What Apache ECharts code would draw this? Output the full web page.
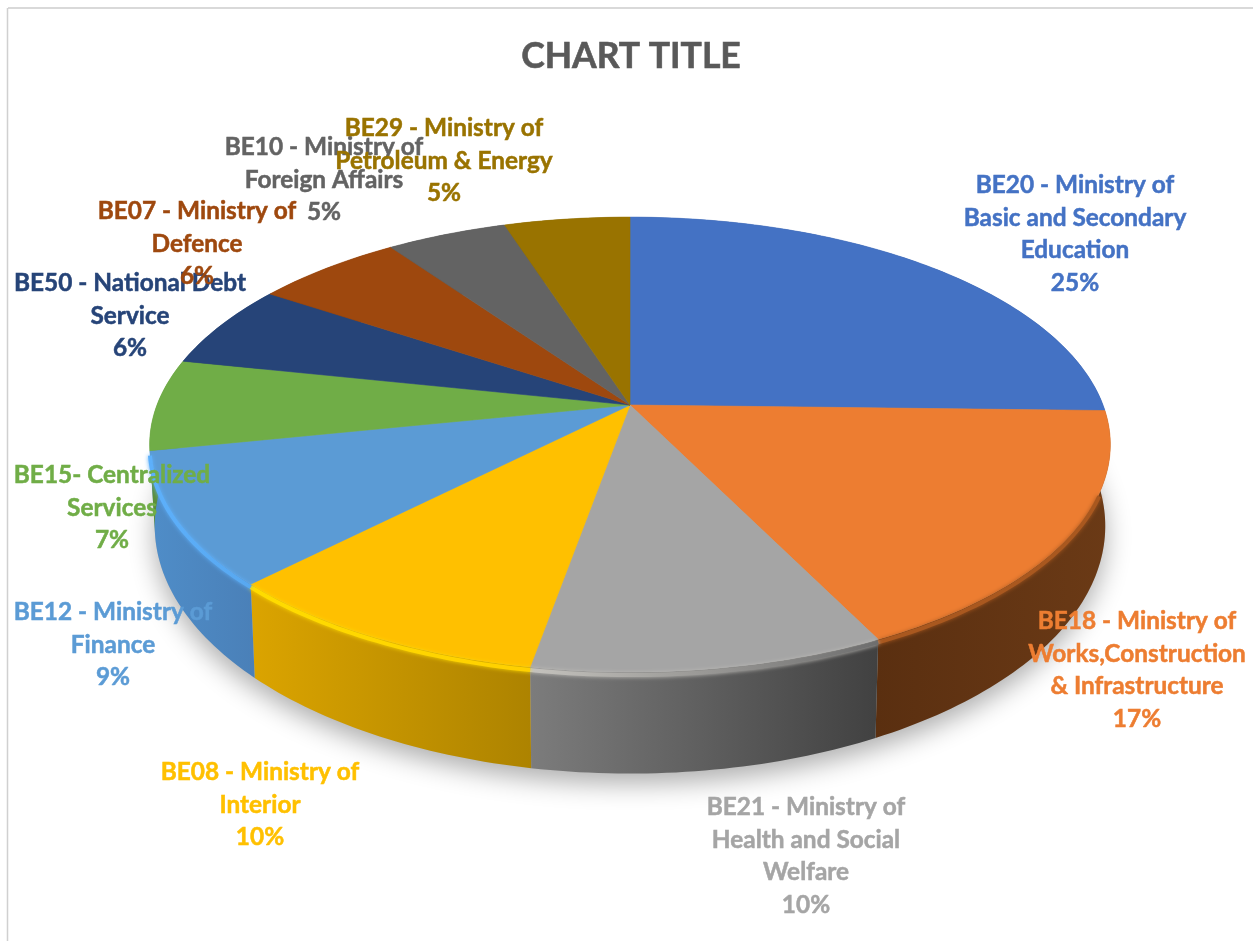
<!DOCTYPE html>
<html>
<head>
<meta charset="utf-8">
<title>Chart Title</title>
<script src="https://cdn.jsdelivr.net/npm/echarts@6/dist/echarts.min.js"></script>
<style>
  html, body { margin: 0; padding: 0; background: #fff; }
  #main { width: 1253px; height: 941px; }
</style>
</head>
<body>
<div id="main"></div>
<script>
// data, clockwise from 12 o'clock
const names = [
  'BE20 - Ministry of\nBasic and Secondary\nEducation',
  'BE18 - Ministry of\nWorks,Construction\n& Infrastructure',
  'BE21 - Ministry of\nHealth and Social\nWelfare',
  'BE08 - Ministry of\nInterior',
  'BE12 - Ministry of\nFinance',
  'BE15- Centralized\nServices',
  'BE50 - National Debt\nService',
  'BE07 - Ministry of\nDefence',
  'BE10 - Ministry of\nForeign Affairs',
  'BE29 - Ministry of\nPetroleum & Energy'
];
const shares = [25.4, 17.3, 10.1, 9.6, 9.4, 6.5, 6.0, 5.9, 4.8, 5.0];

// styles per slice
const faceColors = ['#4472c4', '#ed7d31', '#a5a5a5', '#ffc000', '#5b9bd5', '#70ad47', '#264478', '#9e480e', '#636363', '#997300'];
const wallColors = [
  ['#2f4f88', '#2f4f88'], ['#5a2f10', '#6b3a16'], ['#7c7c7c', '#414141'], ['#dba400', '#ad8300'],
  ['#4f8dc8', '#4a80b8'], ['#5c8e3a', '#5c8e3a'], ['#1c3358', '#1c3358'], ['#74350a', '#74350a'],
  ['#4a4a4a', '#4a4a4a'], ['#715500', '#715500']
];
const rimColors = [
  null, ['#a9581f', '#a9581f'], ['#c4c2bd', '#6e6e6e'], ['#ffdc00', '#ffd000'],
  ['#5db0fb', '#58a8f0'], null, null, null, null, null
];
// centre of each label block
const labelX = [1075, 1137, 806, 260, 113, 112, 130, 197, 324, 444];
const labelY = [234, 670, 856, 805, 645, 508, 316, 244, 180, 161];

// projected discs: top face and lower edge of the wall
const APEX_X = 630;
const TOP = { rx: 473, cy: 405, ry: 220.6 };
const BOTTOM = { rx: 468, cy: 483, ry: 240 };
const TILT = 0.174;

function project(disc, deg, dy) {
  const a = deg * Math.PI / 180;
  const u = Math.sin(a), v = -Math.cos(a);
  const w = 1 - TILT * v;
  return [APEX_X + disc.rx * u / w, disc.cy + disc.ry * v / w + (dy || 0)];
}

function arc(disc, from, to, dy) {
  const pts = [];
  const n = Math.max(2, Math.ceil(Math.abs(to - from)));
  for (let i = 0; i <= n; i++) pts.push(project(disc, from + (to - from) * i / n, dy));
  return pts;
}

function hGradient(pair, pts) {
  const xs = pts.map(p => p[0]);
  return new echarts.graphic.LinearGradient(Math.min(...xs), 0, Math.max(...xs), 0,
    [{ offset: 0, color: pair[0] }, { offset: 1, color: pair[1] }], true);
}

const total = shares.reduce((a, b) => a + b, 0);

function renderSlice(params, api) {
  const i = params.dataIndex;
  const share = api.value(0);
  let before = 0;
  for (let k = 0; k < i; k++) before += shares[k];
  const from = before / total * 360;
  const to = from + share / total * 360;
  const children = [];

  if (i === 0) {
    children.push({
      type: 'polygon', z2: 0, silent: true,
      shape: { points: arc(BOTTOM, 0, 360) },
      style: { fill: '#bdbdbd', shadowBlur: 26, shadowOffsetY: 10, shadowColor: 'rgba(0,0,0,0.32)' }
    });
  }

  const topEdge = arc(TOP, from, to);
  const wallPts = topEdge.concat(arc(BOTTOM, to, from));
  children.push({
    type: 'polygon', z2: 1, silent: true,
    shape: { points: wallPts },
    style: { fill: hGradient(wallColors[i], wallPts) }
  });

  const facePts = [[APEX_X, TOP.cy]].concat(topEdge);
  children.push({
    type: 'polygon', z2: 2, silent: true,
    shape: { points: facePts },
    style: { fill: faceColors[i], stroke: faceColors[i], lineWidth: 0.6 }
  });

  if (rimColors[i]) {
    const rimFrom = Math.max(from, 112), rimTo = Math.min(to, 258);
    const rimPts = arc(TOP, rimFrom, rimTo, 3);
    children.push({
      type: 'polyline', z2: 3, silent: true,
      shape: { points: rimPts },
      style: { fill: 'none', stroke: hGradient(rimColors[i], rimPts), lineWidth: 4, shadowBlur: 4, shadowColor: rimColors[i][0] }
    });
  }

  children.push({
    type: 'text', z2: 10, silent: true,
    style: {
      text: names[i] + '\n' + Math.round(share) + '%',
      x: labelX[i], y: labelY[i],
      align: 'center', verticalAlign: 'middle',
      fill: faceColors[i],
      stroke: faceColors[i],
      lineWidth: 0.5,
      font: 'bold 24.4px Lato',
      lineHeight: 32.5
    }
  });

  return { type: 'group', children };
}

const chart = echarts.init(document.getElementById('main'), null, { renderer: 'canvas' });
chart.setOption({
  animation: false,
  backgroundColor: '#ffffff',
  title: {
    text: 'CHART TITLE',
    left: 631, top: 57, padding: 0, textAlign: 'center', textVerticalAlign: 'middle',
    textStyle: { color: '#595959', fontFamily: 'Lato', fontWeight: 'bold', fontSize: 35.5, textBorderColor: '#595959', textBorderWidth: 0.6 }
  },
  graphic: [
    { type: 'line', shape: { x1: 8, y1: 8, x2: 1253, y2: 8 }, style: { stroke: '#d9d9d9', lineWidth: 2 } },
    { type: 'line', shape: { x1: 7.5, y1: 8, x2: 7.5, y2: 941 }, style: { stroke: '#d0d0d0', lineWidth: 1.5 } }
  ],
  series: [{
    type: 'custom',
    coordinateSystem: 'none',
    renderItem: renderSlice,
    data: shares.map(v => [v])
  }]
});
</script>
</body>
</html>
